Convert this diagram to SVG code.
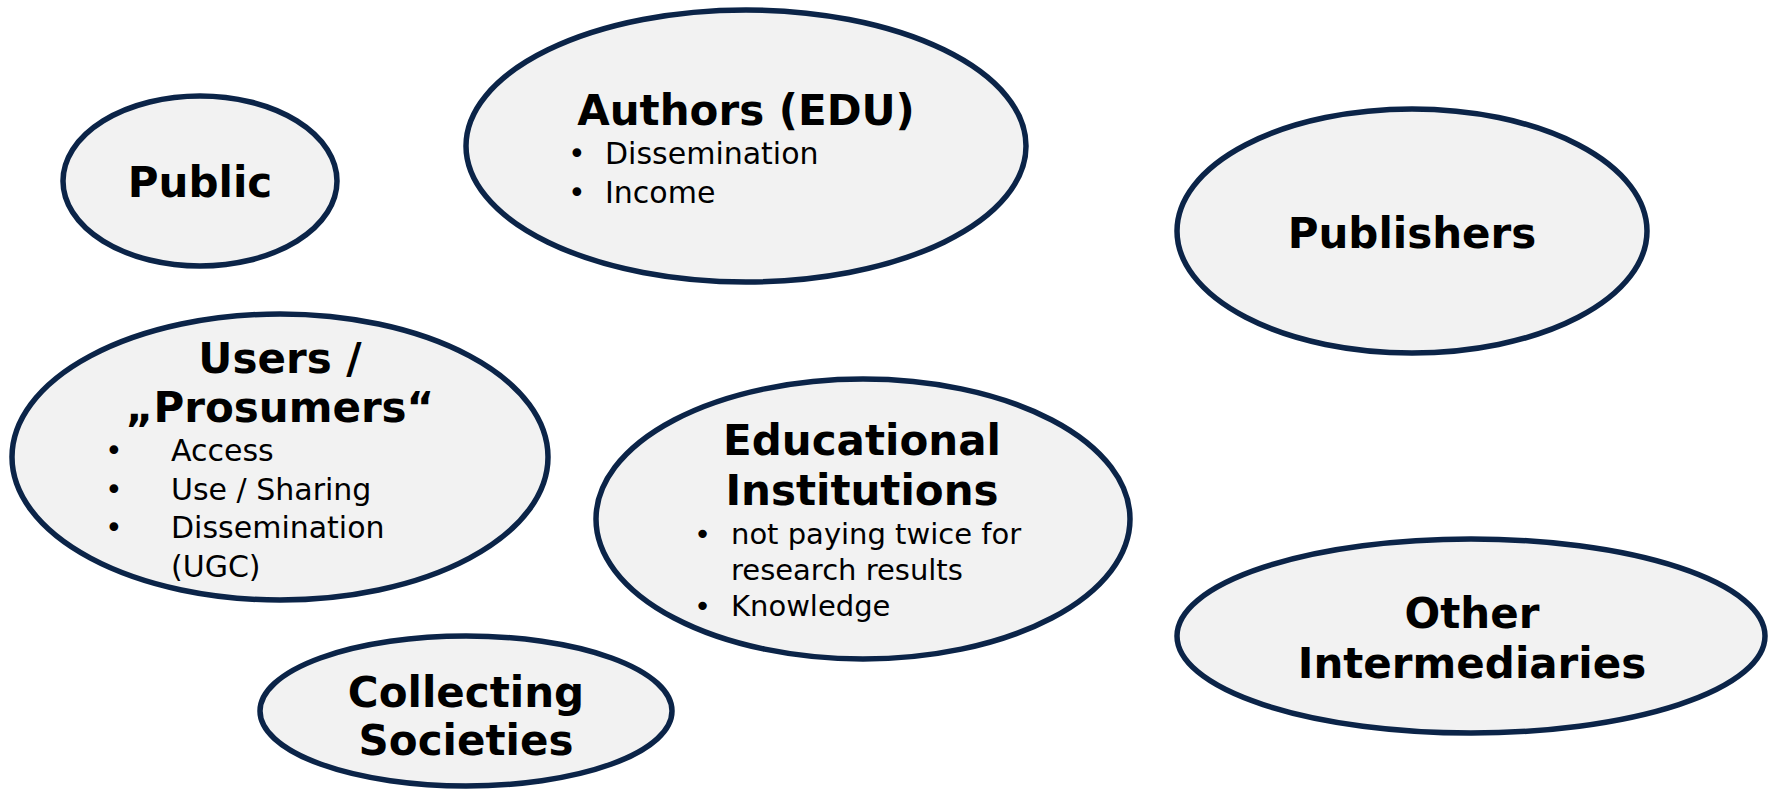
<svg xmlns="http://www.w3.org/2000/svg" width="1772" height="790" viewBox="0 0 1772 790">
<style>
.n{fill:#f2f2f2;stroke:#0b2448;stroke-width:5.5}
.t{font-family:"DejaVu Sans",Verdana,sans-serif;font-weight:bold;font-size:42px;fill:#000;text-anchor:middle}
.b{font-family:"DejaVu Sans",Verdana,sans-serif;font-size:30px;fill:#000}
.s{font-size:29px}
</style>
<rect width="1772" height="790" fill="#fff"/>
<g id="connectors"></g>
<g id="public">
<ellipse class="n" cx="200" cy="181" rx="137" ry="85"/>
<text class="t" x="200" y="197">Public</text>
</g>
<g id="authors">
<ellipse class="n" cx="746" cy="146" rx="280" ry="136"/>
<text class="t" x="746" y="125">Authors (EDU)</text>
<text class="b" x="568" y="164">•</text><text class="b" x="605" y="164">Dissemination</text>
<text class="b" x="568" y="203">•</text><text class="b" x="605" y="203">Income</text>
</g>
<g id="publishers">
<ellipse class="n" cx="1412" cy="231" rx="235" ry="122"/>
<text class="t" x="1412" y="248">Publishers</text>
</g>
<g id="users">
<ellipse class="n" cx="280" cy="457" rx="268" ry="143"/>
<text class="t" x="280" y="373">Users /</text>
<text class="t" x="280" y="422">„Prosumers“</text>
<text class="b" x="105" y="461">•</text><text class="b" x="171" y="461">Access</text>
<text class="b" x="105" y="500">•</text><text class="b" x="171" y="500">Use / Sharing</text>
<text class="b" x="105" y="538">•</text><text class="b" x="171" y="538">Dissemination</text>
<text class="b" x="171" y="577">(UGC)</text>
</g>
<g id="educational">
<ellipse class="n" cx="863" cy="519" rx="267" ry="140"/>
<text class="t" x="862" y="455">Educational</text>
<text class="t" x="862" y="505">Institutions</text>
<text class="b s" x="694" y="544">•</text><text class="b s" x="731" y="544">not paying twice for</text>
<text class="b s" x="731" y="580">research results</text>
<text class="b s" x="694" y="616">•</text><text class="b s" x="731" y="616">Knowledge</text>
</g>
<g id="other">
<ellipse class="n" cx="1471" cy="636" rx="294" ry="97"/>
<text class="t" x="1472" y="628">Other</text>
<text class="t" x="1472" y="678">Intermediaries</text>
</g>
<g id="collecting">
<ellipse class="n" cx="466" cy="711" rx="206" ry="75"/>
<text class="t" x="466" y="707">Collecting</text>
<text class="t" x="466" y="755">Societies</text>
</g>
</svg>
